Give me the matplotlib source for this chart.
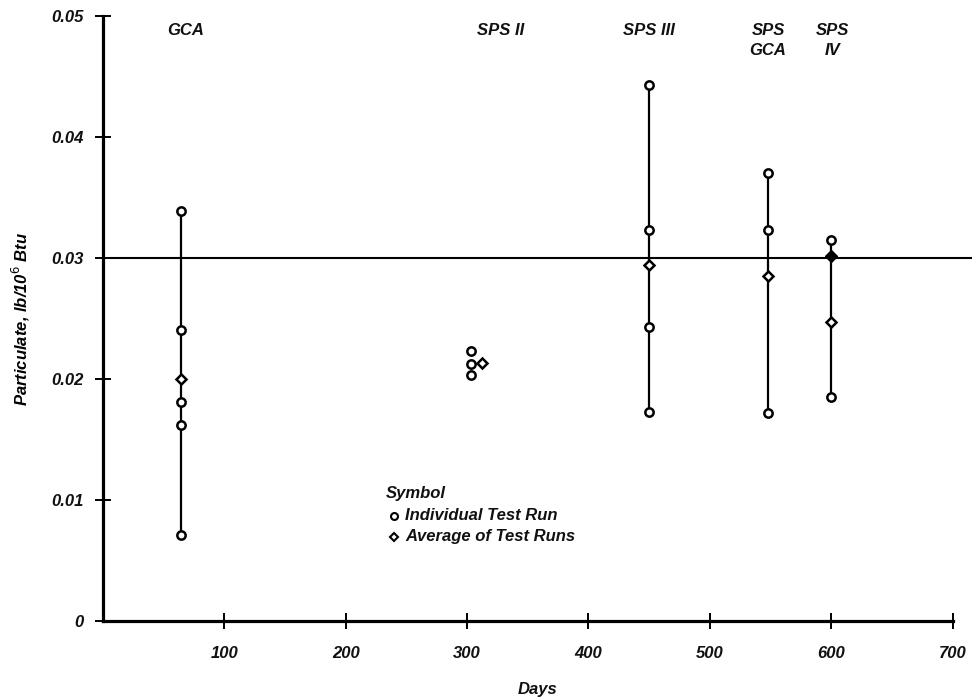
import matplotlib
matplotlib.use("Agg")
import matplotlib.pyplot as plt

plt.rcParams['font.family'] = ['Liberation Sans', 'DejaVu Sans']

# individual test runs (days, particulate lb/10^6 Btu)
gca_day = 64
gca_runs = [0.0339, 0.0240, 0.0181, 0.0162, 0.0071]
gca_avg = 0.0200

sps2_day = 303
sps2_runs = [0.0223, 0.0212, 0.0203]
sps2_avg_day = 312
sps2_avg = 0.0213

sps3_day = 450
sps3_runs = [0.0443, 0.0323, 0.0243, 0.0173]
sps3_avg = 0.0294

spsgca_day = 548
spsgca_runs = [0.0370, 0.0323, 0.0172]
spsgca_avg = 0.0285

sps4_day = 600
sps4_runs = [0.0315, 0.0185]
sps4_avg = 0.0247
sps4_solid = 0.0302

limit = 0.03

group_names = ["GCA", "SPS II", "SPS III", "SPS\nGCA", "SPS\nIV"]
group_x = [68, 328, 450, 548, 601]

xticks = [100, 200, 300, 400, 500, 600, 700]
yticks = [0, 0.01, 0.02, 0.03, 0.04, 0.05]
ytick_labels = ["0", "0.01", "0.02", "0.03", "0.04", "0.05"]

fig = plt.figure(figsize=(9.72, 6.99), dpi=100)
ax = fig.add_axes([0.106, 0.112, 0.894, 0.865])
ax.set_xlim(0, 716)
ax.set_ylim(0, 0.05)

txt = dict(fontstyle='italic', fontsize=12, fontweight='bold', color='#111111')

# limit line
ax.hlines(limit, 6, 716, color='black', lw=1.5, zorder=1)

# vertical ranges
for d, runs in [(gca_day, gca_runs), (sps3_day, sps3_runs),
                (spsgca_day, spsgca_runs), (sps4_day, sps4_runs)]:
    ax.vlines(d, min(runs), max(runs), color='black', lw=1.6, zorder=2)

circ = dict(marker='o', ms=6, mfc='white', mec='black', mew=1.8, ls='None', zorder=3)
diam = dict(marker='D', ms=5.5, mfc='white', mec='black', mew=1.8, ls='None', zorder=3)

ax.plot([gca_day] * len(gca_runs), gca_runs, **circ)
ax.plot([gca_day], [gca_avg], **diam)
ax.plot([sps2_day] * len(sps2_runs), sps2_runs, **circ)
ax.plot([sps2_avg_day], [sps2_avg], **diam)
ax.plot([sps3_day] * len(sps3_runs), sps3_runs, **circ)
ax.plot([sps3_day], [sps3_avg], **diam)
ax.plot([spsgca_day] * len(spsgca_runs), spsgca_runs, **circ)
ax.plot([spsgca_day], [spsgca_avg], **diam)
ax.plot([sps4_day] * len(sps4_runs), sps4_runs, **circ)
ax.plot([sps4_day], [sps4_avg], **diam)
ax.plot([sps4_day], [sps4_solid], marker='D', ms=6.5, mfc='black', mec='black',
        ls='None', zorder=4)

# group names on top
for name, gx in zip(group_names, group_x):
    ax.text(gx, 0.0494, name, ha='center', va='top', linespacing=1.35, **txt)

# symbol key
ax.text(233, 0.0105, "Symbol", ha='left', va='center', **txt)
ax.plot([240], [0.00868], marker='o', ms=5, mfc='white', mec='black', mew=1.5,
        ls='None', clip_on=False)
ax.text(249, 0.00868, "Individual Test Run", ha='left', va='center', **txt)
ax.plot([240], [0.00694], marker='D', ms=4.5, mfc='white', mec='black', mew=1.5,
        ls='None', clip_on=False)
ax.text(249, 0.00694, "Average of Test Runs", ha='left', va='center', **txt)

# axes styling
for s in ['top', 'right']:
    ax.spines[s].set_visible(False)
ax.spines['left'].set_linewidth(2.3)
ax.spines['bottom'].set_linewidth(2.3)
ax.spines['bottom'].set_bounds(0, 700)

ax.set_xticks(xticks)
ax.set_xticklabels([str(t) for t in xticks], **txt)
ax.set_yticks(yticks)
ax.set_yticklabels(ytick_labels, **txt)
ax.tick_params(axis='both', direction='inout', length=12, width=1.4, pad=8)
ax.tick_params(axis='x', pad=12)

ax.set_xlabel("Days", labelpad=15, **txt)
ax.set_ylabel("Particulate, lb/10$^6$ Btu", labelpad=14, fontstyle='italic',
              fontweight='bold', fontsize=12)

fig.savefig("out.png", dpi=100)
